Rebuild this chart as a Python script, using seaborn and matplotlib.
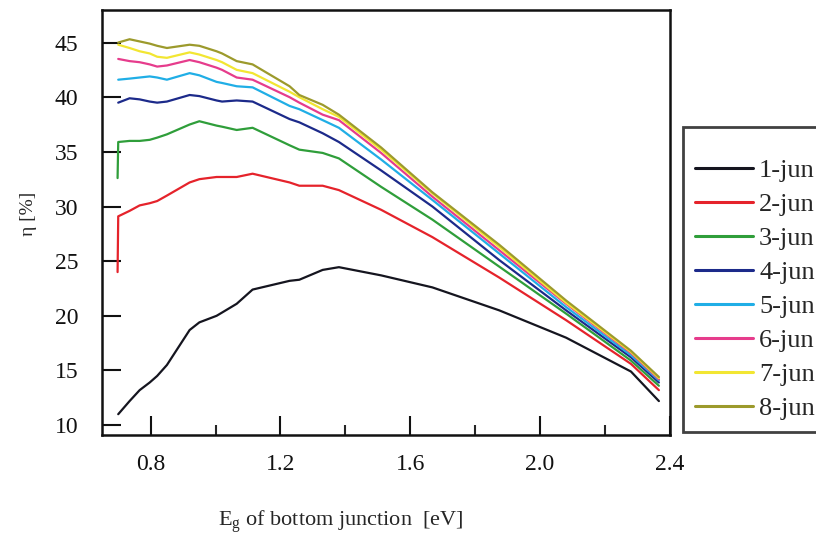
import pandas as pd
import seaborn as sns
import matplotlib.pyplot as plt
from matplotlib.ticker import MultipleLocator

# Values (x = bandgap [eV], y = efficiency [%])
labels = ['1-jun', '2-jun', '3-jun', '4-jun', '5-jun', '6-jun', '7-jun', '8-jun']
colors = ['#15151f', '#e5232b', '#2f9e3a', '#1c2a8a', '#20aee6', '#e63c8c', '#f2e632', '#9c9a2c']

x_common = [0.70, 0.735, 0.766, 0.797, 0.82, 0.85, 0.92, 0.95, 1.003, 1.02, 1.065, 1.114,
            1.228, 1.258, 1.33, 1.38, 1.51, 1.668, 1.874, 2.08, 2.28, 2.366]

eta_1 = [11.0, 12.2, 13.2, 13.9, 14.5, 15.5, 18.7, 19.4, 20.0, 20.3, 21.1, 22.4,
         23.2, 23.3, 24.2, 24.45, 23.7, 22.6, 20.5, 18.0, 14.9, 12.2]
eta_2 = [29.1, 29.6, 30.1, 30.3, 30.5, 31.0, 32.2, 32.5, 32.7, 32.7, 32.7, 33.0,
         32.2, 31.9, 31.9, 31.5, 29.7, 27.2, 23.5, 19.6, 15.6, 13.2]
eta_3 = [35.9, 36.0, 36.0, 36.1, 36.3, 36.6, 37.5, 37.8, 37.4, 37.3, 37.0, 37.2,
         35.6, 35.2, 34.9, 34.4, 31.8, 28.8, 24.5, 20.2, 15.9, 13.6]
eta_4 = [39.5, 39.9, 39.8, 39.6, 39.5, 39.6, 40.2, 40.1, 39.7, 39.6, 39.7, 39.6,
         38.0, 37.7, 36.7, 35.9, 33.3, 30.0, 25.1, 20.5, 16.2, 13.9]
eta_5 = [41.6, 41.7, 41.8, 41.9, 41.8, 41.6, 42.2, 42.0, 41.4, 41.3, 41.0, 40.9,
         39.2, 38.9, 37.9, 37.2, 34.3, 30.6, 25.7, 20.8, 16.4, 14.1]
eta_6 = [43.5, 43.3, 43.2, 43.0, 42.8, 42.9, 43.4, 43.2, 42.7, 42.5, 41.8, 41.6,
         40.0, 39.5, 38.4, 37.9, 34.9, 30.9, 26.0, 21.1, 16.6, 14.2]
eta_7 = [44.8, 44.5, 44.2, 44.0, 43.7, 43.6, 44.1, 43.9, 43.4, 43.2, 42.5, 42.2,
         40.5, 40.0, 38.9, 38.2, 35.2, 31.2, 26.3, 21.2, 16.7, 14.3]
eta_8 = [45.0, 45.3, 45.1, 44.9, 44.7, 44.5, 44.8, 44.7, 44.2, 44.0, 43.3, 43.0,
         41.0, 40.2, 39.3, 38.4, 35.4, 31.3, 26.5, 21.4, 16.8, 14.4]

# vertical start segments of 2-jun and 3-jun
start_2 = [0.698, 24.0]
start_3 = [0.698, 32.6]

series = [eta_1, eta_2, eta_3, eta_4, eta_5, eta_6, eta_7, eta_8]
rows = []
for lab, ys in zip(labels, series):
    if lab == '2-jun':
        rows.append((lab, start_2[0], start_2[1]))
    if lab == '3-jun':
        rows.append((lab, start_3[0], start_3[1]))
    for xv, yv in zip(x_common, ys):
        rows.append((lab, xv, yv))
df = pd.DataFrame(rows, columns=['series', 'Eg', 'eta'])

sns.set_style('ticks')
plt.rcParams['font.family'] = ['Liberation Serif', 'DejaVu Serif']
plt.rcParams['mathtext.fontset'] = 'custom'
plt.rcParams['mathtext.rm'] = 'Liberation Serif'

fig = plt.figure(figsize=(8.16, 5.41), dpi=100)
ax = fig.add_axes([0.125, 0.196, 0.696, 0.786])

sns.lineplot(data=df, x='Eg', y='eta', hue='series', hue_order=labels,
             palette=dict(zip(labels, colors)), estimator=None, sort=False,
             linewidth=1.6, ax=ax, legend=False)

ax.set_xlim(0.65, 2.4)
ax.set_ylim(9.1, 48.0)
ax.xaxis.set_minor_locator(MultipleLocator(0.2))
ax.set_xticks([0.8, 1.2, 1.6, 2.0, 2.4])
ax.set_xticklabels(['0.8', '1.2', '1.6', '2.0', '2.4'])
ax.set_yticks([10, 15, 20, 25, 30, 35, 40, 45])
ax.tick_params(axis='x', which='major', direction='in', length=14, width=1.5,
               labelsize=17, pad=14, colors='#111111')
ax.tick_params(axis='x', which='minor', direction='in', length=7, width=1.5)
ax.tick_params(axis='y', which='major', direction='in', length=14, width=1.5,
               labelsize=17, pad=17, colors='#111111')
for sp in ax.spines.values():
    sp.set_linewidth(1.8)
    sp.set_color('#111111')

ax.set_ylabel('η [%]', fontsize=14)
ax.yaxis.set_label_coords(-0.115, 0.52)
ax.set_xlabel(r'$\mathregular{E_g}$ of bottom junction  [eV]', fontsize=16)
ax.xaxis.set_label_coords(0.42, -0.172)

handles = [plt.Line2D([], [], color=c, lw=2.2) for c in colors]
leg = fig.legend(handles, labels, loc='upper left', bbox_to_anchor=(683 / 816, 1 - 127 / 541),
                 fontsize=19, frameon=True, fancybox=False, handlelength=2.2,
                 handletextpad=0.23, labelspacing=0.4, borderpad=0.45, title=' ',
                 title_fontsize=7, borderaxespad=0)
leg.get_frame().set_edgecolor('#111111')
leg.get_frame().set_linewidth(2)

fig.savefig('out.png', dpi=100)
